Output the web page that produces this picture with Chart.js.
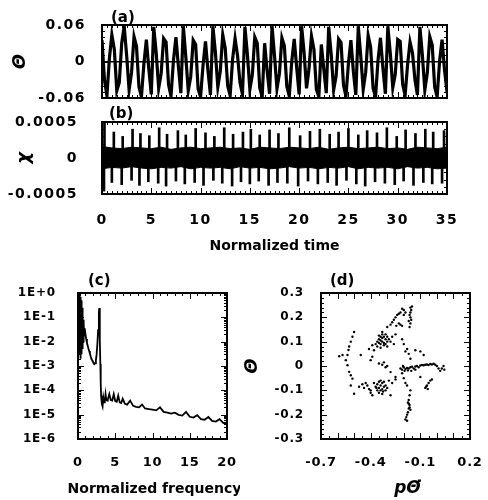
<!DOCTYPE html>
<html>
<head>
<meta charset="utf-8">
<script src="https://cdn.jsdelivr.net/npm/chart.js@4.4.0/dist/chart.umd.min.js"></script>
<style>
html, body { margin: 0; padding: 0; background: #fff; }
#fig { position: relative; width: 488px; height: 500px; }
canvas { position: absolute; }
</style>
</head>
<body>
<div id="fig">
  <canvas id="cb" width="460" height="160" style="left:0px;top:100px"></canvas>
  <canvas id="ca" width="460" height="110" style="left:0px;top:0px"></canvas>
  <canvas id="cc" width="240" height="230" style="left:0px;top:270px"></canvas>
  <canvas id="cd" width="248" height="230" style="left:240px;top:270px"></canvas>
</div>
<script>
// ---- (a) theta vs normalized time, sampled every dtA ----
var dtA = 0.25;
var thetaA = [
  0.035, -0.030, -0.056, 0.005, 0.044, 0.020, -0.048, -0.035, 0.030, 0.058,
  0.010, -0.047, -0.018, 0.041, 0.025, -0.042, -0.058, -0.004, 0.036, -0.012,
  -0.054, 0.057, 0.014, -0.044, -0.020, 0.038, 0.032, -0.038, -0.057, 0.002,
  0.040, -0.008, -0.052, 0.058, 0.008, -0.048, -0.025, 0.035, 0.028, -0.045,
  -0.058, -0.006, 0.033, -0.015, -0.055, 0.058, 0.016, -0.042, -0.016, 0.044,
  0.022, -0.040, -0.056, 0.004, 0.038, 0.010, -0.035, -0.054, 0.057, 0.012,
  -0.046, -0.022, 0.040, 0.030, -0.043, -0.058, 0.030, -0.015, -0.053, 0.058,
  0.010, -0.045, -0.020, 0.039, 0.026, -0.041, -0.057, 0.000, 0.037, -0.010,
  -0.054, 0.058, 0.015, -0.044, -0.012, 0.042, 0.020, -0.046, -0.058, 0.028,
  -0.012, -0.052, 0.057, 0.012, -0.047, -0.024, 0.037, 0.031, -0.039, -0.057,
  -0.003, 0.035, -0.016, -0.055, 0.058, 0.009, -0.046, -0.018, 0.043, 0.024,
  -0.044, -0.058, 0.002, 0.039, -0.011, -0.053, 0.058, 0.013, -0.043, -0.021,
  0.036, 0.033, -0.037, -0.056, -0.005, 0.032, 0.014, -0.030, -0.055, 0.057,
  0.011, -0.047, -0.019, 0.041, 0.027, -0.042, -0.058, 0.001, 0.036, -0.014,
  -0.050
];
var yTicksA = [-0.06, 0, 0.06];
var yLabelsA = ["-0.06", "0", "0.06"];

// ---- (b) chi: dense band (envelope every dtB) plus spikes ----
var dtB = 1;
var bandUpB = [1.6e-4, 1.4e-4, 1.3e-4, 1.5e-4, 1.4e-4, 1.3e-4, 1.5e-4, 1.2e-4, 1.4e-4, 1.5e-4,
  1.3e-4, 1.4e-4, 1.5e-4, 1.3e-4, 1.4e-4, 1.2e-4, 1.5e-4, 1.4e-4, 1.3e-4, 1.5e-4,
  1.4e-4, 1.3e-4, 1.5e-4, 1.2e-4, 1.4e-4, 1.5e-4, 1.3e-4, 1.4e-4, 1.5e-4, 1.3e-4,
  1.4e-4, 1.2e-4, 1.5e-4, 1.4e-4, 1.3e-4, 1.5e-4];
var bandLoB = [-1.5e-4, -1.3e-4, -1.4e-4, -1.2e-4, -1.4e-4, -1.5e-4, -1.3e-4, -1.4e-4, -1.2e-4, -1.5e-4,
  -1.3e-4, -1.4e-4, -1.3e-4, -1.5e-4, -1.2e-4, -1.4e-4, -1.3e-4, -1.5e-4, -1.4e-4, -1.2e-4,
  -1.4e-4, -1.3e-4, -1.5e-4, -1.3e-4, -1.4e-4, -1.2e-4, -1.5e-4, -1.3e-4, -1.4e-4, -1.3e-4,
  -1.5e-4, -1.2e-4, -1.4e-4, -1.3e-4, -1.5e-4, -1.4e-4];
var spikeUpT = [0.25, 1.2, 2.1, 3.1, 3.9, 4.8, 5.8, 6.6, 7.7, 8.5, 9.5, 10.5, 11.4, 12.4, 13.3, 14.3,
  15.1, 16.0, 17.0, 17.9, 19.0, 20.1, 21.1, 22.1, 23.1, 24.0, 25.0, 26.0, 26.9, 27.9, 28.9, 29.9,
  30.8, 31.8, 32.8, 33.6, 34.7];
var spikeUpH = [4.9e-4, 3.6e-4, 3.0e-4, 4.0e-4, 3.4e-4, 3.1e-4, 4.2e-4, 3.3e-4, 3.8e-4, 3.2e-4,
  4.1e-4, 3.5e-4, 3.0e-4, 4.2e-4, 3.3e-4, 3.6e-4, 4.0e-4, 3.2e-4, 3.9e-4, 3.4e-4,
  4.2e-4, 3.1e-4, 3.7e-4, 4.0e-4, 3.3e-4, 3.6e-4, 4.1e-4, 3.2e-4, 3.8e-4, 3.5e-4,
  4.2e-4, 3.0e-4, 3.9e-4, 3.4e-4, 4.0e-4, 3.6e-4, 3.8e-4];
var spikeDnT = [0.2, 1.0, 2.0, 3.0, 3.8, 4.7, 5.7, 6.5, 7.5, 8.4, 9.4, 10.3, 11.3, 12.2, 13.2, 14.1,
  15.0, 15.9, 16.9, 17.8, 18.8, 19.9, 20.9, 21.9, 22.9, 23.8, 24.8, 25.8, 26.7, 27.7, 28.7, 29.7,
  30.6, 31.6, 32.6, 33.5, 34.5];
var spikeDnH = [-4.6e-4, -3.4e-4, -3.7e-4, -3.1e-4, -3.8e-4, -3.3e-4, -3.5e-4, -3.9e-4, -3.2e-4, -3.6e-4,
  -3.4e-4, -3.8e-4, -3.1e-4, -3.5e-4, -3.9e-4, -3.3e-4, -3.6e-4, -3.2e-4, -3.8e-4, -3.4e-4,
  -3.5e-4, -3.9e-4, -3.2e-4, -3.6e-4, -3.4e-4, -3.8e-4, -3.1e-4, -3.6e-4, -3.9e-4, -3.3e-4,
  -3.5e-4, -3.7e-4, -3.2e-4, -3.8e-4, -3.4e-4, -3.6e-4, -3.5e-4];
var yTicksB = [-0.0005, 0, 0.0005];
var yLabelsB = ["-0.0005", "0", "0.0005"];

// ---- (c) power spectrum ----
var freqC = [
  0.02, 0.05, 0.08, 0.11, 0.14, 0.17, 0.20, 0.23, 0.26, 0.29,
  0.32, 0.35, 0.38, 0.41, 0.44, 0.47, 0.50, 0.53, 0.56, 0.60,
  0.64, 0.68, 0.72, 0.76, 0.80, 0.85, 0.90,
  1.0, 1.1, 1.2, 1.3, 1.4, 1.5, 1.6, 1.7, 1.8, 1.9,
  2.0, 2.1, 2.2, 2.3, 2.4, 2.5, 2.6, 2.7, 2.8,
  2.85, 2.9, 2.95, 3.0, 3.05, 3.1,
  3.2, 3.3, 3.4, 3.5, 3.6, 3.7, 3.8, 3.9, 4.0,
  4.2, 4.4, 4.6, 4.8, 5.0, 5.2, 5.4, 5.6, 5.8, 6.0,
  6.3, 6.6,
  7.0, 7.4, 7.8, 8.2, 8.6,
  9.0, 9.5, 10.0, 10.5, 11.0, 11.5, 12.0, 12.5, 13.0, 13.5, 14.0, 14.5,
  15.0, 15.5, 16.0, 16.5, 17.0, 17.5, 18.0, 18.5, 19.0, 19.5, 20.0
];
var powerC = [
  0.9, 0.02, 0.8, 0.004, 0.6, 0.01, 0.95, 0.003, 0.5, 0.006,
  0.7, 0.002, 0.3, 0.015, 0.5, 0.003, 0.2, 0.008, 0.25, 0.005,
  0.12, 0.01, 0.08, 0.012, 0.05, 0.018, 0.035,
  0.02, 0.013, 0.009, 0.0068, 0.0052, 0.0041, 0.0032, 0.0025, 0.002, 0.0017,
  0.0015, 0.0013, 0.0012, 0.0013, 0.0017, 0.003, 0.008, 0.03, 0.15,
  0.24, 0.12, 0.012, 0.0012, 0.0002, 0.00006,
  0.000028, 0.000022, 0.00005, 0.000032, 0.000035, 0.00007, 0.00004, 0.000038, 0.000042,
  0.00007, 0.00004, 0.000038, 0.00007, 0.000036, 0.000034, 0.00006, 0.000032, 0.00003, 0.000045,
  0.000028, 0.000026,
  0.000038, 0.000023, 0.000021, 0.00002, 0.000026,
  0.000018, 0.000017, 0.000016, 0.000015, 0.00002, 0.000013, 0.000012, 0.000011, 0.000012, 0.0000098, 0.0000092, 0.000013,
  0.0000082, 0.0000076, 0.0000095, 0.0000066, 0.0000062, 0.000008, 0.0000055, 0.0000052, 0.0000065, 0.0000046, 0.0000042
];
var yTicksC = [1e-6, 1e-5, 1e-4, 1e-3, 1e-2, 1e-1, 1];
var yLabelsC = ["1E-6", "1E-5", "1E-4", "1E-3", "1E-2", "1E-1", "1E+0"];
var xTicksC = [0, 5, 10, 15, 20];

// ---- (d) phase portrait, [p theta-dot, theta] ----
var phaseD = [
  [-0.34,0.12],[-0.33,0.13],[-0.32,0.12],[-0.35,0.11],[-0.33,0.10],[-0.31,0.11],[-0.34,0.09],[-0.32,0.095],
  [-0.30,0.10],[-0.35,0.125],[-0.33,0.115],[-0.31,0.13],[-0.36,0.10],[-0.32,0.085],[-0.34,0.105],[-0.30,0.12],
  [-0.33,0.14],[-0.35,0.095],[-0.31,0.09],[-0.29,0.11],[-0.36,0.08],[-0.28,0.10],[-0.34,0.075],[-0.37,0.09],[-0.30,0.08],
  [-0.39,0.085],[-0.38,0.065],[-0.27,0.12],[-0.26,0.09],[-0.25,0.13],[-0.41,0.07],
  [-0.30,0.16],[-0.28,0.17],[-0.27,0.18],[-0.26,0.19],[-0.25,0.20],[-0.24,0.21],[-0.23,0.215],[-0.22,0.22],
  [-0.21,0.235],[-0.20,0.23],[-0.22,0.17],[-0.23,0.175],[-0.21,0.165],[-0.245,0.165],[-0.20,0.21],[-0.19,0.22],
  [-0.16,0.24],[-0.155,0.23],[-0.16,0.22],[-0.165,0.21],[-0.16,0.20],[-0.155,0.19],[-0.16,0.175],[-0.165,0.16],
  [-0.15,0.245],[-0.17,0.185],
  [-0.21,0.11],[-0.20,0.09],[-0.18,0.07],[-0.17,0.05],[-0.19,0.06],[-0.16,0.03],[-0.13,0.065],[-0.10,0.06],[-0.08,0.045],
  [-0.50,0.14],[-0.51,0.12],[-0.52,0.10],[-0.53,0.08],[-0.534,0.066],[-0.54,0.045],[-0.57,0.045],[-0.55,0.024],
  [-0.54,0.003],[-0.53,-0.024],[-0.52,-0.038],[-0.51,-0.052],[-0.52,-0.08],[-0.50,-0.114],[-0.59,0.04],
  [-0.34,-0.08],[-0.35,-0.09],[-0.33,-0.07],[-0.36,-0.075],[-0.32,-0.085],[-0.34,-0.10],[-0.35,-0.065],[-0.33,-0.095],
  [-0.31,-0.08],[-0.37,-0.085],[-0.34,-0.06],[-0.36,-0.10],[-0.32,-0.065],[-0.30,-0.09],[-0.35,-0.11],[-0.33,-0.115],
  [-0.38,-0.07],[-0.31,-0.10],[-0.365,-0.09],[-0.325,-0.105],
  [-0.47,-0.085],[-0.45,-0.075],[-0.44,-0.09],[-0.42,-0.08],[-0.41,-0.095],[-0.40,-0.10],[-0.43,-0.07],[-0.40,-0.11],[-0.39,-0.12],
  [-0.29,-0.06],[-0.27,-0.07],[-0.25,-0.055],[-0.28,-0.12],
  [-0.35,0.01],[-0.33,0.005],[-0.31,-0.005],[-0.32,0.015],[-0.30,0.0],[-0.40,0.024],[-0.39,0.038],
  [-0.22,-0.01],[-0.21,-0.015],[-0.20,-0.005],[-0.19,-0.012],[-0.18,-0.008],[-0.17,-0.01],[-0.16,-0.005],[-0.15,-0.003],
  [-0.14,-0.01],[-0.13,-0.002],[-0.12,0.0],[-0.11,-0.005],[-0.10,0.002],[-0.09,0.004],[-0.08,0.003],[-0.07,0.005],
  [-0.06,0.006],[-0.05,0.004],[-0.04,0.008],[-0.03,0.006],[-0.02,0.009],[-0.01,0.005],[0.00,0.0],[0.01,-0.01],
  [0.02,-0.02],[0.03,-0.01],[0.04,0.0],[0.045,-0.015],[-0.195,-0.02],[-0.175,-0.018],[-0.155,-0.02],[-0.13,-0.015],[-0.205,0.0],
  [-0.07,-0.09],[-0.06,-0.08],[-0.05,-0.07],[-0.04,-0.06],[-0.03,-0.055],[-0.065,-0.085],[-0.055,-0.095],
  [-0.10,-0.045],
  [-0.16,-0.10],[-0.165,-0.12],[-0.17,-0.14],[-0.175,-0.15],[-0.165,-0.16],[-0.17,-0.175],[-0.175,-0.19],[-0.18,-0.20],
  [-0.185,-0.21],[-0.19,-0.22],[-0.165,-0.17],[-0.16,-0.18],[-0.17,-0.155],[-0.18,-0.225],
  [-0.21,-0.03],[-0.20,-0.05],[-0.19,-0.07],[-0.18,-0.08],
  [-0.25,-0.045],[-0.28,-0.025],[-0.46,0.045]
];
var xTicksD = [-0.7, -0.4, -0.1, 0.2];
var xLabelsD = ["-0.7", "-0.4", "-0.1", "0.2"];
var yTicksD = [-0.3, -0.2, -0.1, 0, 0.1, 0.2, 0.3];
var yLabelsD = ["-0.3", "-0.2", "-0.1", "0", "0.1", "0.2", "0.3"];

Chart.defaults.font.family = "'DejaVu Sans', sans-serif";
Chart.defaults.font.weight = "bold";
Chart.defaults.color = "#000";
Chart.defaults.animation = false;
Chart.defaults.events = [];
Chart.defaults.plugins.legend.display = false;
Chart.defaults.plugins.tooltip.enabled = false;

function stepsBetween(min, max, step) {
  var out = [];
  var n = Math.round((max - min) / step);
  for (var i = 0; i <= n; i++) out.push(min + i * step);
  return out;
}
function isMajor(v, major) {
  var r = v / major;
  return Math.abs(r - Math.round(r)) < 1e-6;
}

// boxed frame with inward ticks, panel letter, free axis title, spaced tick labels
var framePlugin = {
  id: "frame",
  afterLayout: function(chart, args, o) {
    Object.keys(chart.scales).forEach(function(k) {
      var s = chart.scales[k];
      if (s._spaced) return;
      var orig = s.drawLabels;
      s.drawLabels = function(area) {
        var c = this.ctx;
        var prev = c.letterSpacing;
        c.letterSpacing = (o.spacing || 0) + "px";
        orig.call(this, area);
        c.letterSpacing = prev;
      };
      s._spaced = true;
    });
  },
  afterDraw: function(chart, args, o) {
    var ctx = chart.ctx, a = chart.chartArea;
    var xs = chart.scales.x, ys = chart.scales.y;
    ctx.save();
    ctx.letterSpacing = "0px";
    ctx.strokeStyle = "#000";
    ctx.lineWidth = 1;
    ctx.beginPath();
    stepsBetween(xs.min, xs.max, o.xMinor).forEach(function(v) {
      var px = Math.round(xs.getPixelForValue(v)) + 0.5;
      var len = isMajor(v, o.xMajor) ? 6 : 3;
      ctx.moveTo(px, a.top); ctx.lineTo(px, a.top + len);
      ctx.moveTo(px, a.bottom); ctx.lineTo(px, a.bottom - len);
    });
    var yv = [];
    if (o.yLog) {
      for (var d = Math.round(Math.log10(ys.min)); d < Math.round(Math.log10(ys.max)); d++) {
        for (var m = 1; m < 10; m++) yv.push([m * Math.pow(10, d), m === 1]);
      }
    } else {
      stepsBetween(ys.min, ys.max, o.yMinor).forEach(function(v) { yv.push([v, isMajor(v, o.yMajor)]); });
    }
    yv.forEach(function(t) {
      var py = Math.round(ys.getPixelForValue(t[0])) + 0.5;
      var len = t[1] ? 6 : 3;
      ctx.moveTo(a.left, py); ctx.lineTo(a.left + len, py);
      ctx.moveTo(a.right, py); ctx.lineTo(a.right - len, py);
    });
    ctx.stroke();
    ctx.lineWidth = 2;
    ctx.strokeRect(a.left, a.top, a.right - a.left, a.bottom - a.top);
    ctx.fillStyle = "#000";
    if (o.label) {
      ctx.font = "bold 15px 'DejaVu Sans'";
      ctx.textAlign = "left";
      ctx.textBaseline = "alphabetic";
      ctx.fillText(o.label, a.left + o.dx, a.top - o.dy);
    }
    if (o.xTitle) {
      ctx.font = o.xTitle.font;
      ctx.textAlign = "center";
      ctx.textBaseline = "middle";
      ctx.fillText(o.xTitle.text, (a.left + a.right) / 2 + o.xTitle.dx, a.bottom + o.xTitle.dy);
    }
    ctx.restore();
  }
};
Chart.register(framePlugin);

function fixedTicks(vals) {
  return function(s) { s.ticks = vals.map(function(v) { return { value: v }; }); };
}
// fixed axis box sizes, no label overhang padding
function yBox(w) {
  return function(s) { s.width = w; s.paddingTop = 0; s.paddingBottom = 0; };
}
function xBox(h) {
  return function(s) { s.height = h; s.paddingLeft = 0; s.paddingRight = 0; };
}
var noGrid = { display: false };
var noBorder = { display: false };

// (a)
new Chart(document.getElementById("ca"), {
  type: "line",
  data: {
    datasets: [{
      data: thetaA.map(function(v, i) { return { x: i * dtA, y: v }; }),
      borderColor: "#000", borderWidth: 3.2, pointRadius: 0, tension: 0
    }]
  },
  options: {
    responsive: false,
    layout: { padding: { left: 0, right: 13, top: 25, bottom: 12 } },
    plugins: { frame: { xMinor: 0.5, xMajor: 5, yMinor: 0.01, yMajor: 0.06, label: "(a)", dx: 9, dy: 3, spacing: 1.5 } },
    scales: {
      x: { type: "linear", min: 0, max: 35, display: false },
      y: {
        min: -0.06, max: 0.06,
        afterFit: yBox(102),
        afterBuildTicks: fixedTicks(yTicksA),
        ticks: { padding: 16, font: { size: 14 }, callback: function(v, i) { return yLabelsA[i]; } },
        grid: { drawTicks: false, lineWidth: 1.5, color: function(c) { return c.tick && c.tick.value === 0 ? "#000" : "rgba(0,0,0,0)"; } },
        border: noBorder,
        title: { display: true, text: "Θ", font: { size: 18, style: "italic" }, padding: { top: 10, bottom: 0 } }
      }
    }
  }
});

// (b)
new Chart(document.getElementById("cb"), {
  type: "line",
  data: {
    datasets: [
      { data: bandUpB.map(function(v, i) { return { x: i * dtB, y: v }; }), borderColor: "#000", borderWidth: 1, backgroundColor: "#000", fill: "origin", pointRadius: 0, tension: 0 },
      { data: bandLoB.map(function(v, i) { return { x: i * dtB, y: v }; }), borderColor: "#000", borderWidth: 1, backgroundColor: "#000", fill: "origin", pointRadius: 0, tension: 0 },
      { type: "bar", data: spikeUpT.map(function(t, i) { return { x: t, y: [0, spikeUpH[i]] }; }), backgroundColor: "#000", barThickness: 2, grouped: false },
      { type: "bar", data: spikeDnT.map(function(t, i) { return { x: t, y: [0, spikeDnH[i]] }; }), backgroundColor: "#000", barThickness: 2, grouped: false }
    ]
  },
  options: {
    responsive: false,
    layout: { padding: { left: 0, right: 13, top: 22, bottom: 0 } },
    plugins: { frame: { xMinor: 0.5, xMajor: 5, yMinor: 0.0001, yMajor: 0.0005, label: "(b)", dx: 7, dy: 4, spacing: 1.5 } },
    scales: {
      x: {
        type: "linear", min: 0, max: 35, offset: false,
        afterFit: xBox(66),
        ticks: { stepSize: 5, padding: 10, maxRotation: 0, font: { size: 14 } },
        grid: noGrid, border: noBorder,
        title: { display: true, text: "Normalized time", font: { size: 14 }, padding: { top: 0, bottom: 5 } }
      },
      y: {
        min: -0.0005, max: 0.0005,
        afterFit: yBox(102),
        afterBuildTicks: fixedTicks(yTicksB),
        ticks: { padding: 16, font: { size: 14 }, callback: function(v, i) { return yLabelsB[i]; } },
        grid: noGrid, border: noBorder,
        title: { display: true, text: "χ", font: { size: 18, style: "italic" }, padding: { top: 14, bottom: 0 } }
      }
    }
  }
});

// (c)
new Chart(document.getElementById("cc"), {
  type: "line",
  data: {
    datasets: [{
      data: freqC.map(function(f, i) { return { x: f, y: powerC[i] }; }),
      borderColor: "#000", borderWidth: 1.8, pointRadius: 0, tension: 0
    }]
  },
  options: {
    responsive: false,
    layout: { padding: { left: 0, right: 13, top: 23, bottom: 0 } },
    plugins: { frame: { xMinor: 1, xMajor: 5, yLog: true, label: "(c)", dx: 10, dy: 8, spacing: 0.8,
      xTitle: { text: "Normalized frequency", font: "bold 14px 'DejaVu Sans'", dx: 2, dy: 50 } } },
    scales: {
      x: {
        type: "linear", min: 0, max: 20,
        afterFit: xBox(61),
        afterBuildTicks: fixedTicks(xTicksC),
        ticks: { padding: 8, maxRotation: 0, font: { size: 13 } },
        grid: noGrid, border: noBorder
      },
      y: {
        type: "logarithmic", min: 1e-6, max: 1,
        afterFit: yBox(78),
        afterBuildTicks: fixedTicks(yTicksC),
        ticks: { padding: 14, autoSkip: false, font: { size: 12 }, callback: function(v, i) { return yLabelsC[i]; } },
        grid: noGrid, border: noBorder
      }
    }
  }
});

// (d)
new Chart(document.getElementById("cd"), {
  type: "scatter",
  data: {
    datasets: [{
      data: phaseD.map(function(p) { return { x: p[0], y: p[1] }; }),
      backgroundColor: "#000", borderWidth: 0, pointRadius: 1.2
    }]
  },
  options: {
    responsive: false,
    layout: { padding: { left: 0, right: 18, top: 23, bottom: 0 } },
    plugins: { frame: { xMinor: 0.05, xMajor: 0.1, yMinor: 0.02, yMajor: 0.1, label: "(d)", dx: 9, dy: 8, spacing: 0.8,
      xTitle: { text: "pΘ\u0307", font: "italic bold 17px 'DejaVu Sans'", dx: 12, dy: 50 } } },
    scales: {
      x: {
        type: "linear", min: -0.7, max: 0.2,
        afterFit: xBox(61),
        afterBuildTicks: fixedTicks(xTicksD),
        ticks: { padding: 8, autoSkip: false, maxRotation: 0, font: { size: 13 }, callback: function(v, i) { return xLabelsD[i]; } },
        grid: noGrid, border: noBorder
      },
      y: {
        min: -0.3, max: 0.3,
        afterFit: yBox(81),
        afterBuildTicks: fixedTicks(yTicksD),
        ticks: { padding: 9, autoSkip: false, font: { size: 12 }, callback: function(v, i) { return yLabelsD[i]; } },
        grid: noGrid, border: noBorder,
        title: { display: true, text: "Θ", font: { size: 18, style: "italic" }, padding: { top: 1.2, bottom: 0 } }
      }
    }
  }
});
</script>
</body>
</html>
